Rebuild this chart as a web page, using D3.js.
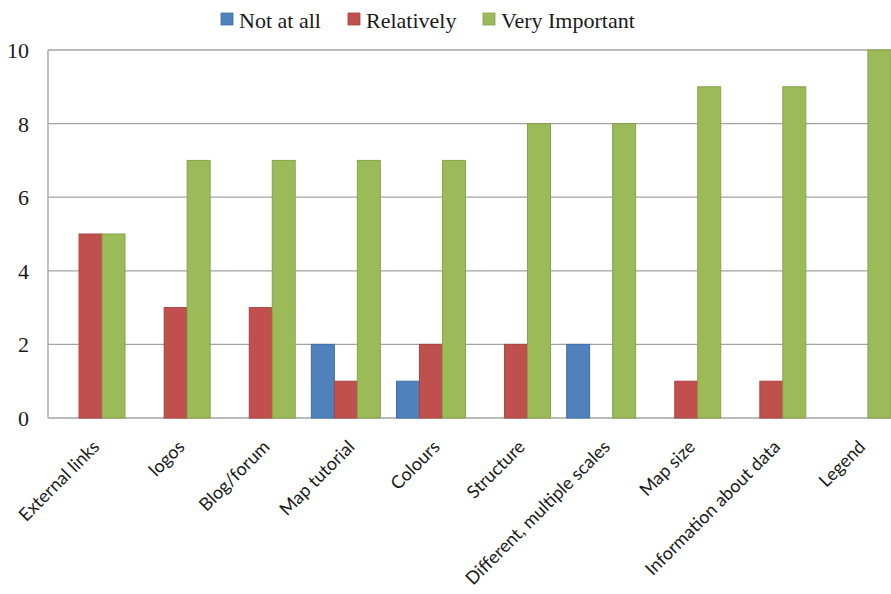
<!DOCTYPE html>
<html>
<head>
<meta charset="utf-8">
<script src="https://cdn.jsdelivr.net/npm/d3@7"></script>
<style>
  html, body { margin: 0; padding: 0; background: #fff; }
  svg { display: block; }
</style>
</head>
<body>
<svg id="chart" width="891" height="594"></svg>
<script>
// Survey results: importance of map features
const categories = ["External links", "logos", "Blog/forum", "Map tutorial", "Colours",
  "Structure", "Different, multiple scales", "Map size", "Information about data", "Legend"];
const seriesNames = ["Not at all", "Relatively", "Very Important"];
const notAtAll      = [0, 0, 0, 2, 1, 0, 2, 0, 0, 0];
const relatively    = [5, 3, 3, 1, 2, 2, 0, 1, 1, 0];
const veryImportant = [5, 7, 7, 7, 7, 8, 8, 9, 9, 10];
const yTicks = [0, 2, 4, 6, 8, 10];

const seriesValues = [notAtAll, relatively, veryImportant];
const fills   = ["#4f81bd", "#c0504d", "#9bbb59"];
const strokes = ["#3f6fa6", "#a8433f", "#86a34a"];

const svg = d3.select("#chart");
const plot = { left: 48, right: 899, top: 50, bottom: 418 };

const x = d3.scaleBand().domain(categories)
  .range([plot.left, plot.right]).paddingInner(0.19).paddingOuter(0.095);
const xs = d3.scaleBand().domain(seriesNames).range([0, x.bandwidth()]);
const y = d3.scaleLinear().domain([0, 10]).range([plot.bottom, plot.top]);

// gridlines
svg.append("g").selectAll("line").data(yTicks).join("line")
  .attr("x1", plot.left).attr("x2", plot.right)
  .attr("y1", d => y(d)).attr("y2", d => y(d))
  .attr("stroke", "#a3a3a3").attr("stroke-width", 1.3);

// plot frame (left edge)
svg.append("line")
  .attr("x1", plot.left).attr("x2", plot.left)
  .attr("y1", plot.top).attr("y2", plot.bottom)
  .attr("stroke", "#a3a3a3").attr("stroke-width", 1.3);

// y axis labels
const yAxis = d3.axisLeft(y).tickValues(yTicks).tickSize(0).tickPadding(19);
svg.append("g").attr("transform", `translate(${plot.left},0)`).call(yAxis)
  .call(g => g.select(".domain").remove())
  .call(g => g.selectAll("text")
    .attr("font-family", "'Liberation Serif', 'Times New Roman', serif")
    .attr("font-size", 22).attr("fill", "#1a1a1a").attr("dy", "0.34em"));

// bars
const groups = svg.append("g").selectAll("g").data(categories).join("g")
  .attr("transform", d => `translate(${x(d)},0)`);
groups.selectAll("rect")
  .data((d, i) => seriesNames.map((s, k) => ({ s, k, v: seriesValues[k][i] })))
  .join("rect")
  .filter(d => d.v > 0)
  .attr("x", d => xs(d.s)).attr("width", xs.bandwidth())
  .attr("y", d => y(d.v)).attr("height", d => y(0) - y(d.v))
  .attr("fill", d => fills[d.k]).attr("stroke", d => strokes[d.k]).attr("stroke-width", 1);

// category labels
const xAxis = d3.axisBottom(x).tickSize(0).tickPadding(0);
svg.append("g").attr("transform", `translate(0,${plot.bottom})`).call(xAxis)
  .call(g => g.select(".domain").remove())
  .call(g => g.selectAll("text")
    .attr("font-family", "Lato, 'Open Sans', sans-serif")
    .attr("font-size", 18).attr("fill", "#1a1a1a")
    .attr("text-anchor", "end").attr("dy", 0).attr("y", 0)
    .attr("transform", "translate(10,30) rotate(-45)"));

// legend
const legendX = [221, 348, 483];
const legend = svg.append("g").selectAll("g").data(seriesNames).join("g")
  .attr("transform", (d, i) => `translate(${legendX[i]},13)`);
legend.append("rect").attr("width", 12).attr("height", 12)
  .attr("fill", (d, i) => fills[i]).attr("stroke", (d, i) => strokes[i]).attr("stroke-width", 0.8);
legend.append("text").attr("x", 18).attr("y", 15)
  .attr("font-family", "'Liberation Serif', 'Times New Roman', serif")
  .attr("font-size", 22).attr("fill", "#1a1a1a").text(d => d);
</script>
</body>
</html>
